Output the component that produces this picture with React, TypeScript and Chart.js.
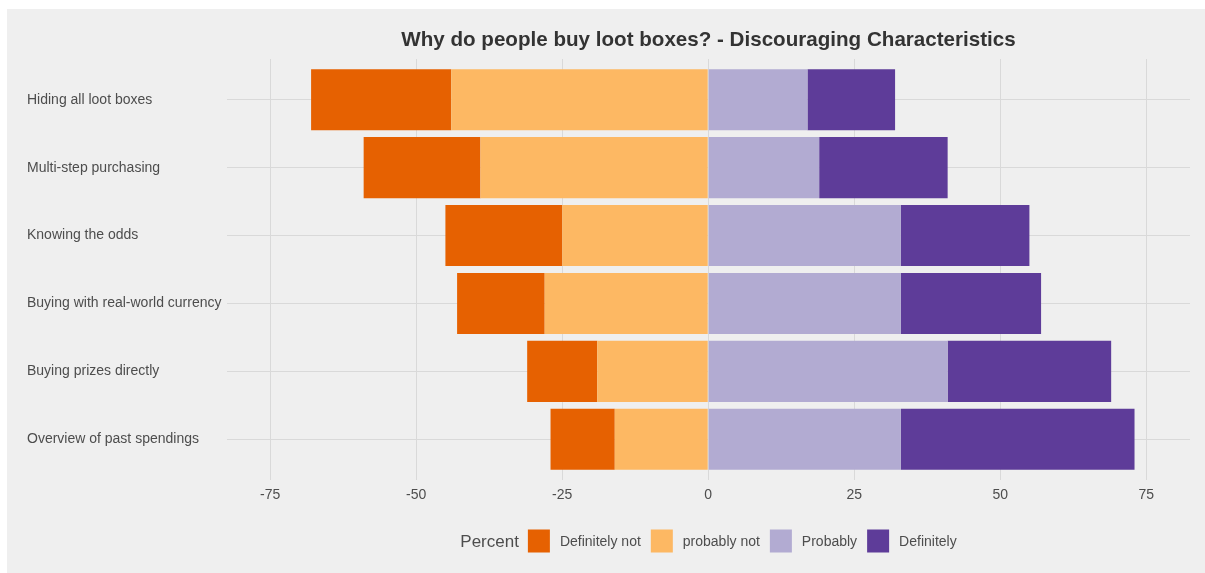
import React, { useEffect, useRef } from "react";
import { Chart, registerables } from "chart.js";

Chart.register(...registerables);

const categories = [
  "Hiding all loot boxes",
  "Multi-step purchasing",
  "Knowing the odds",
  "Buying with real-world currency",
  "Buying prizes directly",
  "Overview of past spendings",
];
const probablyNot = [-44, -39, -25, -28, -19, -16];
const definitelyNot = [-24, -20, -20, -15, -12, -11];
const probably = [17, 19, 33, 33, 41, 33];
const definitely = [15, 22, 22, 24, 28, 40];
const xTicks = [-75, -50, -25, 0, 25, 50, 75];
const legendTitle = "Percent";
const legendLabels = ["Definitely not", "probably not", "Probably", "Definitely"];
const legendColors = ["#e66101", "#fdb863", "#b2abd2", "#5e3c99"];
const chartTitle = "Why do people buy loot boxes? - Discouraging Characteristics";

const FONT = "'Liberation Sans', Arial, sans-serif";
const W = 1198;
const H = 564;

const overlayPlugin = {
  id: "overlay",
  afterDraw(chart: any) {
    const ctx = chart.ctx;
    const ca = chart.chartArea;
    const cx = (ca.left + ca.right) / 2;
    ctx.save();
    // title
    ctx.font = `bold 20.6px ${FONT}`;
    ctx.fillStyle = "#333333";
    ctx.textAlign = "center";
    ctx.textBaseline = "middle";
    ctx.fillText(chartTitle, cx, 31);
    // legend
    const y = 532;
    const box = 22;
    ctx.font = `17px ${FONT}`;
    const titleW = ctx.measureText(legendTitle).width;
    ctx.font = `14px ${FONT}`;
    const widths = legendLabels.map((l) => ctx.measureText(l).width);
    let total = titleW + 9;
    widths.forEach((w, i) => {
      total += box + 10 + w + (i < widths.length - 1 ? 10 : 0);
    });
    let x = cx - total / 2;
    ctx.textAlign = "left";
    ctx.fillStyle = "#4d4d4d";
    ctx.font = `17px ${FONT}`;
    ctx.fillText(legendTitle, x, y + 1);
    x += titleW + 9;
    ctx.font = `14px ${FONT}`;
    legendLabels.forEach((l, i) => {
      ctx.fillStyle = legendColors[i];
      ctx.fillRect(x, y - 11.5, box, 23);
      x += box + 10;
      ctx.fillStyle = "#4d4d4d";
      ctx.fillText(l, x, y + 1);
      x += widths[i] + 10;
    });
    ctx.restore();
  },
};

export default function App() {
  const ref = useRef<HTMLCanvasElement | null>(null);
  useEffect(() => {
    if (!ref.current) return;
    const mk = (vals: number[]) => vals.map((v, i) => ({ x: v, y: i }));
    const chart = new Chart(ref.current, {
      type: "bar",
      data: {
        datasets: [
          { label: legendLabels[1], data: mk(probablyNot), backgroundColor: legendColors[1] },
          { label: legendLabels[0], data: mk(definitelyNot), backgroundColor: legendColors[0] },
          { label: legendLabels[2], data: mk(probably), backgroundColor: legendColors[2] },
          { label: legendLabels[3], data: mk(definitely), backgroundColor: legendColors[3] },
        ] as any,
      },
      options: {
        indexAxis: "y",
        animation: false,
        responsive: false,
        devicePixelRatio: 1,
        datasets: { bar: { categoryPercentage: 0.9, barPercentage: 1.0, borderWidth: 0 } },
        layout: { padding: { left: 20, right: 15, top: 50, bottom: 53 } },
        plugins: { legend: { display: false }, title: { display: false }, tooltip: { enabled: false } },
        scales: {
          x: {
            type: "linear",
            stacked: true,
            min: -82.4,
            max: 82.5,
            afterBuildTicks: (axis: any) => {
              axis.ticks = xTicks.map((v) => ({ value: v }));
            },
            afterFit: (axis: any) => {
              axis.height = 40;
            },
            grid: { color: "#d9d9d9", lineWidth: 1, drawTicks: false },
            border: { display: false },
            ticks: {
              padding: 7,
              color: "#4d4d4d",
              font: { family: FONT, size: 14 },
              callback: (v: any) => String(v),
            },
          },
          y: {
            type: "linear",
            stacked: true,
            reverse: true,
            offset: false,
            min: -0.6,
            max: 5.6,
            afterBuildTicks: (axis: any) => {
              axis.ticks = categories.map((_, i) => ({ value: i }));
            },
            afterFit: (axis: any) => {
              axis.width = 200;
            },
            grid: { color: "#d9d9d9", lineWidth: 1, drawTicks: false, offset: false },
            border: { display: false },
            ticks: {
              crossAlign: "far",
              padding: 8,
              color: "#4d4d4d",
              font: { family: FONT, size: 14 },
              callback: (v: any) => categories[v as number] ?? "",
            },
          },
        },
      } as any,
      plugins: [overlayPlugin],
    });
    return () => chart.destroy();
  }, []);
  return (
    <div style={{ position: "absolute", left: 7, top: 9, width: W, height: H, background: "#efefef" }}>
      <canvas ref={ref} width={W} height={H} style={{ display: "block" }} />
    </div>
  );
}
